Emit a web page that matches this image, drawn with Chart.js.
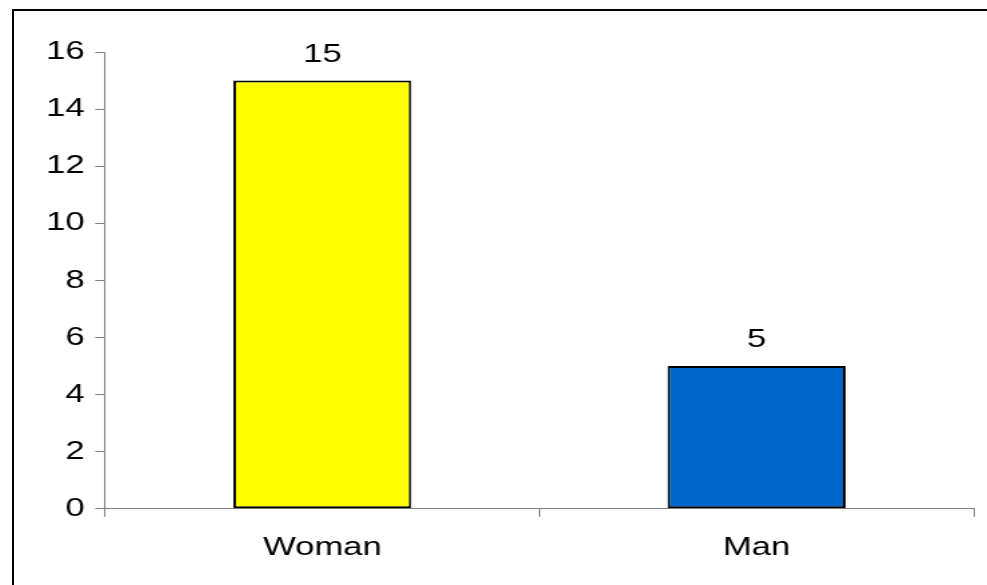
<!DOCTYPE html>
<html>
<head>
<meta charset="utf-8">
<script src="https://cdn.jsdelivr.net/npm/chart.js@4"></script>
<style>
  html, body { margin: 0; padding: 0; background: #fff; overflow: hidden; }
  #wrap { position: relative; width: 987px; height: 585px; }
  #frame {
    position: absolute; left: 12px; top: 9px; width: 1200px; height: 900px;
    border: 2px solid #000; pointer-events: none;
  }
</style>
</head>
<body>
<div id="wrap">
  <!-- the picture is a horizontally stretched chart, so the canvas is stretched too -->
  <canvas id="chart" width="740" height="585" style="width:987px;height:585px;display:block"></canvas>
  <div id="frame"></div>
</div>
<script>
const categories = ['Woman', 'Man'];
const counts = [15, 5];
const barColors = ['#FFFF00', '#0066CC'];
const yTicks = [0, 2, 4, 6, 8, 10, 12, 14, 16];

const fontFamily = '"Liberation Sans", Arial, sans-serif';
const fontSize = 26;

const valueLabels = {
  id: 'valueLabels',
  afterDatasetsDraw(chart) {
    const ctx = chart.ctx;
    ctx.save();
    ctx.font = fontSize + 'px ' + fontFamily;
    ctx.fillStyle = '#000';
    ctx.textAlign = 'center';
    ctx.textBaseline = 'middle';
    chart.getDatasetMeta(0).data.forEach(function (bar, i) {
      ctx.fillText(String(counts[i]), bar.x, bar.y - 26);
    });
    ctx.restore();
  }
};

new Chart(document.getElementById('chart'), {
  type: 'bar',
  data: {
    labels: categories,
    datasets: [{
      data: counts,
      backgroundColor: barColors,
      borderColor: '#000',
      borderWidth: 2,
      borderSkipped: false,
      categoryPercentage: 1,
      barPercentage: 0.41
    }]
  },
  options: {
    responsive: false,
    animation: false,
    events: [],
    layout: { padding: { left: 26.5, right: 10, top: 52, bottom: 7 } },
    plugins: { legend: { display: false }, tooltip: { enabled: false } },
    scales: {
      x: {
        grid: { drawOnChartArea: false, drawTicks: true, tickLength: 8, color: '#808080', offset: true },
        border: { color: '#808080', width: 1 },
        ticks: { color: '#000', font: { family: fontFamily, size: fontSize }, padding: 15 }
      },
      y: {
        min: 0,
        max: 16,
        afterBuildTicks: function (axis) {
          axis.ticks = yTicks.map(v => ({ value: v }));
        },
        grid: { drawOnChartArea: false, drawTicks: true, tickLength: 7.5, color: '#808080' },
        border: { color: '#808080', width: 1 },
        ticks: { color: '#000', font: { family: fontFamily, size: fontSize }, padding: 8 }
      }
    }
  },
  plugins: [valueLabels]
});
</script>
</body>
</html>
